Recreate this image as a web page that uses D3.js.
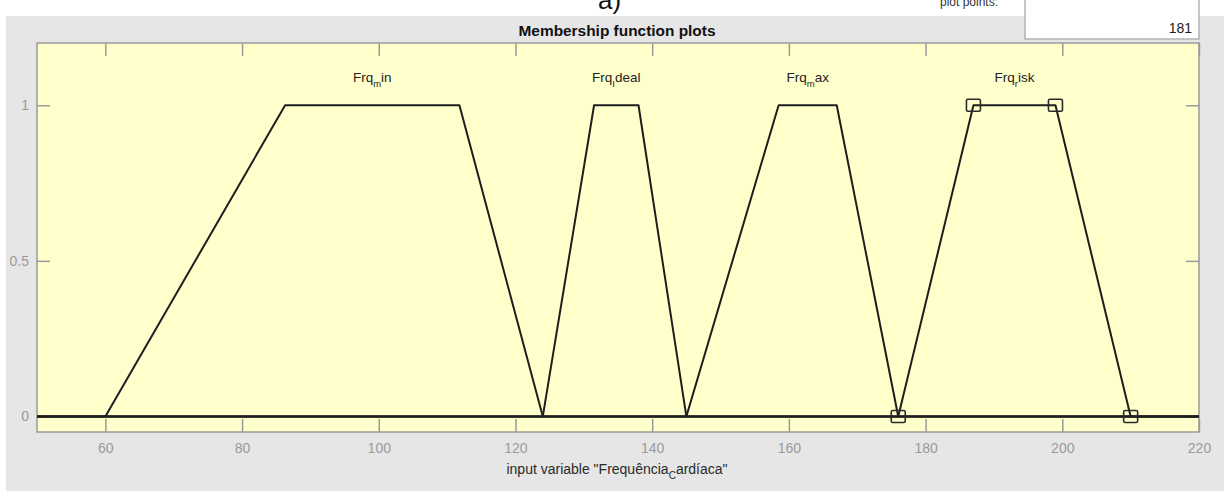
<!DOCTYPE html>
<html>
<head>
<meta charset="utf-8">
<script src="https://cdn.jsdelivr.net/npm/d3@7"></script>
<style>
  html, body { margin: 0; padding: 0; background: #ffffff; }
  svg { display: block; font-family: "Liberation Sans", Arial, sans-serif; }
</style>
</head>
<body>
<svg id="chart" width="1224" height="491"></svg>
<script>
// Membership functions of the input "Frequência Cardíaca" (trapezoids a, b, c, d)
const mfNames = [
  ["Frq", "m", "in"],
  ["Frq", "I", "deal"],
  ["Frq", "m", "ax"],
  ["Frq", "r", "isk"]
];
const mfParams = [
  [60, 86.3, 111.8, 124],
  [124, 131.5, 138, 145],
  [145, 158.5, 167, 176],
  [176, 187, 199, 210]
];
const selectedMf = 3;          // the highlighted function shows its vertex markers
const xTicks = [60, 80, 100, 120, 140, 160, 180, 200, 220];
const yTicks = [0, 0.5, 1];
const xRange = [50, 220];
const yRange = [-0.05, 1.2];
const plotPoints = "181";

const svg = d3.select("#chart");
const W = 1224, H = 491;

// figure panel
svg.append("rect").attr("x", 6).attr("y", 16).attr("width", W - 6).attr("height", H - 16)
  .attr("fill", "#e6e6e6");

// remnants of the controls above the plot
svg.append("text").attr("x", 598).attr("y", 9).attr("font-size", 26).attr("fill", "#111")
  .text("a)");
svg.append("rect").attr("x", 0).attr("y", 0).attr("width", 6).attr("height", H).attr("fill", "#fff");
svg.append("text").attr("x", 940).attr("y", 6).attr("font-size", 12).attr("fill", "#333")
  .text("plot points:");
svg.append("rect").attr("x", 1025).attr("y", -2).attr("width", 174).attr("height", 41)
  .attr("fill", "#fff").attr("stroke", "#b4b4b4").attr("stroke-width", 1.5);
svg.append("text").attr("x", 1192).attr("y", 33).attr("font-size", 14).attr("fill", "#222")
  .attr("text-anchor", "end").text(plotPoints);

// title
svg.append("text").attr("x", 617).attr("y", 36).attr("font-size", 14.5).attr("font-weight", "bold")
  .attr("fill", "#111").attr("text-anchor", "middle").attr("textLength", 197)
  .attr("lengthAdjust", "spacingAndGlyphs").text("Membership function plots");

const m = { left: 37, top: 43, right: 1199, bottom: 432 };
const x = d3.scaleLinear().domain(xRange).range([m.left, m.right]);
const y = d3.scaleLinear().domain(yRange).range([m.bottom, m.top]);

svg.append("rect").attr("x", m.left).attr("y", m.top)
  .attr("width", m.right - m.left).attr("height", m.bottom - m.top).attr("fill", "#ffffcc");

const tickLen = 13;
const axisColor = "#9a9a9a";
const labelColor = "#9a9a9a";

// axes with inward ticks on all four sides
const gBottom = svg.append("g").attr("transform", `translate(0,${m.bottom})`)
  .call(d3.axisBottom(x).tickValues(xTicks).tickSizeInner(-tickLen).tickSizeOuter(0).tickPadding(11));
const gTop = svg.append("g").attr("transform", `translate(0,${m.top})`)
  .call(d3.axisTop(x).tickValues(xTicks).tickSizeInner(-tickLen).tickSizeOuter(0).tickFormat(""));
const gLeft = svg.append("g").attr("transform", `translate(${m.left},0)`)
  .call(d3.axisLeft(y).tickValues(yTicks).tickSizeInner(-tickLen).tickSizeOuter(0).tickPadding(8)
    .tickFormat(d3.format("")));
const gRight = svg.append("g").attr("transform", `translate(${m.right},0)`)
  .call(d3.axisRight(y).tickValues(yTicks).tickSizeInner(-tickLen).tickSizeOuter(0).tickFormat(""));

[gBottom, gTop, gLeft, gRight].forEach(g => {
  g.select(".domain").remove();
  g.selectAll(".tick line").attr("stroke", axisColor).attr("stroke-width", 1.5);
  g.selectAll(".tick text").attr("fill", labelColor).attr("font-size", 14)
    .attr("font-family", "Liberation Sans, Arial, sans-serif");
});

// plot frame
svg.append("rect").attr("x", m.left).attr("y", m.top)
  .attr("width", m.right - m.left).attr("height", m.bottom - m.top)
  .attr("fill", "none").attr("stroke", axisColor).attr("stroke-width", 1.5);

// membership curves, each spanning the whole input range
const line = d3.line().x(d => x(d[0])).y(d => y(d[1]));
const curves = svg.append("g");
mfParams.forEach(p => {
  const pts = [[xRange[0], 0], [p[0], 0], [p[1], 1], [p[2], 1], [p[3], 0], [xRange[1], 0]];
  curves.append("path").attr("d", line(pts)).attr("fill", "none")
    .attr("stroke", "#1e1e1e").attr("stroke-width", 2).attr("stroke-linejoin", "round");
});

// vertex markers on the selected function
const sel = mfParams[selectedMf];
const verts = [[sel[0], 0], [sel[1], 1], [sel[2], 1], [sel[3], 0]];
svg.append("g").selectAll("rect").data(verts).join("rect")
  .attr("x", d => x(d[0]) - 7).attr("y", d => y(d[1]) - 6)
  .attr("width", 14).attr("height", 12).attr("rx", 1.5)
  .attr("fill", "none").attr("stroke", "#2a2a2a").attr("stroke-width", 1.6);

// function names with the TeX-style subscript
const names = svg.append("g");
mfParams.forEach((p, i) => {
  const t = names.append("text").attr("x", x((p[1] + p[2]) / 2)).attr("y", 82)
    .attr("text-anchor", "middle").attr("font-size", 13.5).attr("fill", "#222");
  t.append("tspan").text(mfNames[i][0]);
  t.append("tspan").attr("dy", 5).attr("font-size", 9.5).text(mfNames[i][1]);
  t.append("tspan").attr("dy", -5).text(mfNames[i][2]);
});

// input variable label
const xl = svg.append("text").attr("x", 617).attr("y", 474).attr("text-anchor", "middle")
  .attr("font-size", 14).attr("fill", "#2a2a2a");
xl.append("tspan").text("input variable \"Frequência");
xl.append("tspan").attr("dy", 5).attr("font-size", 10).text("C");
xl.append("tspan").attr("dy", -5).text("ardíaca\"");
</script>
</body>
</html>
